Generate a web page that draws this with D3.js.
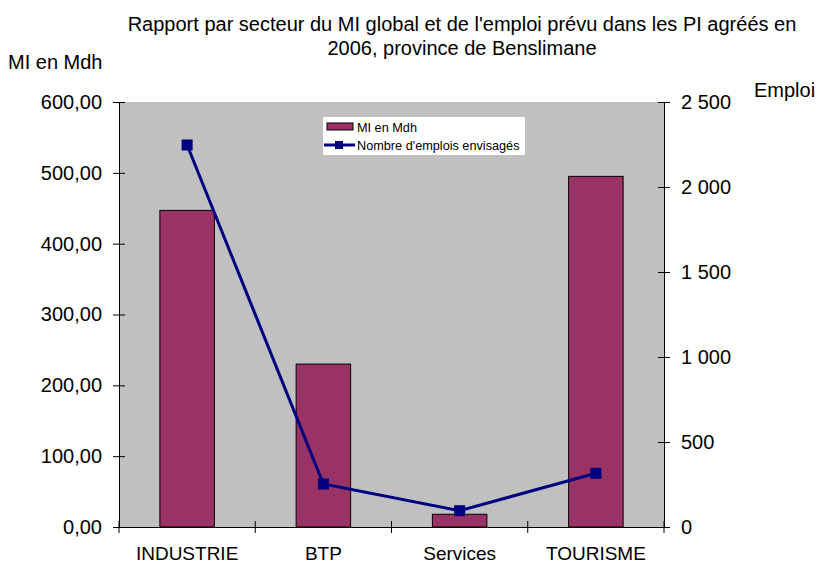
<!DOCTYPE html>
<html>
<head>
<meta charset="utf-8">
<script src="https://cdn.jsdelivr.net/npm/d3@7"></script>
<style>
  body { margin: 0; background: #fff; }
  text { font-family: "Liberation Sans", Arial, sans-serif; fill: #000; }
</style>
</head>
<body>
<div id="chart"></div>
<script>
  'use strict';

  var categories = ['INDUSTRIE', 'BTP', 'Services', 'TOURISME'];
  var miValues   = [447, 230, 18, 495];
  var emplois    = [2247, 253, 96, 316];
  var miTicks    = [0, 100, 200, 300, 400, 500, 600];
  var empTicks   = [0, 500, 1000, 1500, 2000, 2500];

  var width = 819, height = 564;
  var plot = { left: 119, right: 664, top: 102, bottom: 527 };

  var svg = d3.select('#chart')
    .append('svg')
    .attr('width', width)
    .attr('height', height);

  var x = d3.scaleBand()
    .domain(categories)
    .range([plot.left, plot.right])
    .paddingInner(0.6)
    .paddingOuter(0.3);

  var yLeft = d3.scaleLinear().domain([0, 600]).range([plot.bottom, plot.top]);
  var yRight = d3.scaleLinear().domain([0, 2500]).range([plot.bottom, plot.top]);

  // plot background
  svg.append('rect')
    .attr('x', plot.left)
    .attr('y', plot.top)
    .attr('width', plot.right - plot.left)
    .attr('height', plot.bottom - plot.top)
    .attr('fill', '#c0c0c0');

  // bars
  svg.selectAll('rect.bar')
    .data(miValues)
    .enter().append('rect')
    .attr('class', 'bar')
    .attr('x', function(d, i){ return x(categories[i]); })
    .attr('y', function(d){ return yLeft(d); })
    .attr('width', x.bandwidth())
    .attr('height', function(d){ return plot.bottom - yLeft(d); })
    .attr('fill', '#993366')
    .attr('stroke', '#000')
    .attr('stroke-width', 1);

  var fmtLeft = function(d){ return d3.format('.2f')(d).replace('.', ','); };
  var fmtRight = function(d){ return d3.format(',')(d).replace(/,/g, ' '); };

  // left axis
  var leftAxis = svg.append('g')
    .attr('transform', 'translate(' + plot.left + ',0)')
    .call(d3.axisLeft(yLeft).tickValues(miTicks).tickFormat(fmtLeft)
      .tickSizeInner(6).tickSizeOuter(0).tickPadding(11));
  leftAxis.selectAll('.tick line').attr('x2', 6).attr('x1', -6).attr('stroke', '#000');
  leftAxis.select('.domain').attr('stroke', '#000');
  leftAxis.selectAll('text').style('font-size', '20px');

  // right axis
  var rightAxis = svg.append('g')
    .attr('transform', 'translate(' + plot.right + ',0)')
    .call(d3.axisRight(yRight).tickValues(empTicks).tickFormat(fmtRight)
      .tickSizeInner(6).tickSizeOuter(0).tickPadding(11));
  rightAxis.selectAll('.tick line').attr('x1', -6).attr('x2', 6).attr('stroke', '#000');
  rightAxis.select('.domain').attr('stroke', '#000');
  rightAxis.selectAll('text').style('font-size', '20px');

  // bottom axis
  var bottomAxis = svg.append('g')
    .attr('transform', 'translate(0,' + plot.bottom + ')')
    .call(d3.axisBottom(x).tickSize(0).tickPadding(20));
  bottomAxis.select('.domain').attr('stroke', '#000');
  bottomAxis.selectAll('text').style('font-size', '19px');

  var bounds = d3.range(categories.length + 1).map(function(i){
    return plot.left + i * (plot.right - plot.left) / categories.length;
  });
  bottomAxis.selectAll('line.sep')
    .data(bounds)
    .enter().append('line')
    .attr('class', 'sep')
    .attr('x1', function(d){ return d; })
    .attr('x2', function(d){ return d; })
    .attr('y1', -6)
    .attr('y2', 6)
    .attr('stroke', '#000');

  // line series
  var cx = function(d, i){ return x(categories[i]) + x.bandwidth() / 2; };
  var line = d3.line()
    .x(cx)
    .y(function(d){ return yRight(d); });

  svg.append('path')
    .datum(emplois)
    .attr('d', line)
    .attr('fill', 'none')
    .attr('stroke', '#000080')
    .attr('stroke-width', 3);

  svg.selectAll('rect.marker')
    .data(emplois)
    .enter().append('rect')
    .attr('class', 'marker')
    .attr('x', function(d, i){ return cx(d, i) - 5.5; })
    .attr('y', function(d){ return yRight(d) - 5.5; })
    .attr('width', 11)
    .attr('height', 11)
    .attr('fill', '#000080');

  // legend
  var legend = svg.append('g').attr('transform', 'translate(323,117)');
  legend.append('rect')
    .attr('width', 202).attr('height', 38).attr('fill', '#fff');
  legend.append('rect')
    .attr('x', 4).attr('y', 6).attr('width', 26).attr('height', 7)
    .attr('fill', '#993366').attr('stroke', '#000');
  legend.append('text')
    .attr('x', 34).attr('y', 15).style('font-size', '12.7px').text('MI en Mdh');
  legend.append('line')
    .attr('x1', 1).attr('x2', 32).attr('y1', 28).attr('y2', 28)
    .attr('stroke', '#000080').attr('stroke-width', 3);
  legend.append('rect')
    .attr('x', 12).attr('y', 24).attr('width', 8).attr('height', 8)
    .attr('fill', '#000080');
  legend.append('text')
    .attr('x', 34).attr('y', 33).style('font-size', '12.7px').text("Nombre d'emplois envisagés");

  // titles
  svg.append('text')
    .attr('x', 462).attr('y', 31)
    .attr('text-anchor', 'middle')
    .style('font-size', '20px')
    .text("Rapport par secteur du MI global et de l'emploi prévu dans les PI agréés en");
  svg.append('text')
    .attr('x', 462).attr('y', 55)
    .attr('text-anchor', 'middle')
    .style('font-size', '20px')
    .text('2006, province de Benslimane');

  svg.append('text')
    .attr('x', 8).attr('y', 69)
    .style('font-size', '20px')
    .text('MI en Mdh');
  svg.append('text')
    .attr('x', 754).attr('y', 97)
    .style('font-size', '20px')
    .text('Emploi');
</script>
</body>
</html>
